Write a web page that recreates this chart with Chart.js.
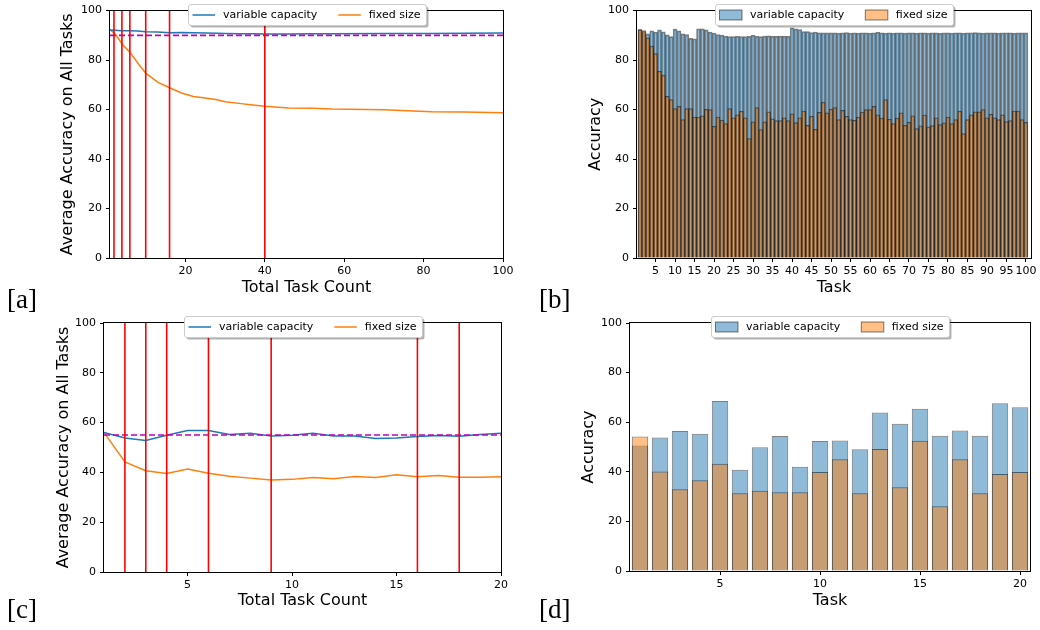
<!DOCTYPE html>
<html>
<head>
<meta charset="utf-8">
<script src="https://cdn.jsdelivr.net/npm/chart.js@4.4.1/dist/chart.umd.min.js"></script>
<style>
  body { margin: 0; background: #fff; }
  #page { position: relative; width: 1040px; height: 630px; overflow: hidden; }
  .panel { position: absolute; }
  .tag { position: absolute; font-family: 'Liberation Serif', serif; font-size: 27px; line-height: 27px; color: #000; }
</style>
</head>
<body>
<div id="page">
  <div class="panel" style="left:0;top:0;width:520px;height:305px"><canvas id="chart-a"></canvas></div>
  <div class="panel" style="left:520px;top:0;width:520px;height:305px"><canvas id="chart-b"></canvas></div>
  <div class="panel" style="left:0;top:310px;width:520px;height:310px"><canvas id="chart-c"></canvas></div>
  <div class="panel" style="left:520px;top:310px;width:520px;height:310px"><canvas id="chart-d"></canvas></div>
  <div class="tag" style="left:7px;top:286px">[a]</div>
  <div class="tag" style="left:539px;top:286px">[b]</div>
  <div class="tag" style="left:7px;top:596px">[c]</div>
  <div class="tag" style="left:539px;top:596px">[d]</div>
</div>
<script>
// ── data ───────────────────────────────────
const LABEL_VAR = 'variable capacity';
const LABEL_FIX = 'fixed size';

// [a] average accuracy on all tasks, 100-task run
const tasksA = [1, 2, 3, 4, 6, 8, 10, 13, 16, 19, 22, 25, 28, 30, 34, 37, 40, 46, 52, 57, 70, 82, 90, 100];
const varA = [92.2, 92.1, 92.0, 91.9, 91.9, 91.8, 91.5, 91.3, 91.0, 91.1, 91.0, 90.9, 90.8, 90.7, 90.6, 90.6, 90.5, 90.5, 90.6, 90.6, 90.7, 90.7, 90.8, 90.9];
const fixA = [92.2, 91.0, 89.0, 86.6, 83.2, 78.8, 74.7, 71.1, 68.8, 66.7, 65.3, 64.7, 64.0, 63.2, 62.4, 61.8, 61.3, 60.6, 60.5, 60.2, 59.9, 59.1, 59.0, 58.7];
const refA = 90;
const expandA = [2, 4, 6, 10, 16, 40];
const xTicksA = [20, 40, 60, 80, 100];

// [b] per-task accuracy after 100 tasks
const varB = [
  92.3, 91.5, 90.6, 91.8, 91.3, 92.2, 91.4, 90.2, 89.5, 92.5,
  91.8, 90.6, 90.3, 88.8, 88.6, 92.6, 92.6, 92.2, 91.3, 90.9,
  90.3, 90.1, 89.7, 89.5, 89.5, 89.6, 89.5, 89.5, 89.6, 90.0,
  89.6, 89.5, 89.7, 89.8, 89.6, 89.6, 89.7, 89.7, 89.6, 93.0,
  92.6, 92.3, 91.5, 91.5, 91.1, 91.3, 91.0, 91.0, 91.0, 91.0,
  91.0, 90.9, 91.0, 91.1, 90.9, 91.0, 90.9, 91.0, 91.0, 90.9,
  91.0, 91.2, 91.0, 90.9, 91.0, 90.9, 91.0, 91.0, 90.9, 91.0,
  91.0, 90.9, 91.0, 91.0, 90.9, 91.0, 91.0, 90.8, 91.0, 91.0,
  90.9, 91.0, 91.0, 90.9, 91.0, 91.0, 91.1, 91.0, 90.9, 91.0,
  91.0, 91.0, 90.9, 91.0, 91.0, 91.0, 90.9, 91.0, 91.0, 91.0,
];
const fixB = [
  92.3, 91.9, 89.0, 85.7, 82.6, 75.5, 73.9, 65.3, 64.0, 60.4,
  61.3, 55.9, 60.4, 60.4, 57.0, 57.0, 57.5, 60.1, 60.0, 53.2,
  57.0, 55.7, 54.3, 60.4, 56.7, 57.9, 59.3, 56.7, 48.3, 55.0,
  60.8, 51.9, 55.0, 59.1, 56.3, 55.5, 55.5, 56.7, 55.5, 58.3,
  54.7, 56.7, 59.4, 53.6, 57.3, 52.0, 58.9, 63.0, 58.7, 60.2,
  60.8, 55.9, 59.7, 57.3, 55.9, 55.6, 57.0, 59.0, 60.0, 60.0,
  61.3, 57.9, 56.6, 64.0, 56.1, 54.3, 56.6, 58.7, 53.6, 54.8,
  57.5, 52.3, 53.4, 57.8, 53.0, 53.5, 56.7, 53.9, 54.6, 57.0,
  54.3, 55.9, 59.3, 50.3, 55.9, 57.9, 59.1, 59.1, 60.0, 56.7,
  58.1, 56.7, 55.9, 57.9, 55.1, 55.5, 59.4, 59.4, 55.9, 54.8,
];
const tasksB = varB.map((_, i) => i + 1);
const xTicksB = [5, 10, 15, 20, 25, 30, 35, 40, 45, 50, 55, 60, 65, 70, 75, 80, 85, 90, 95, 100];

// [c] average accuracy on all tasks, 20-task run
const tasksC = [1, 2, 3, 4, 5, 6, 7, 8, 9, 10, 11, 12, 13, 14, 15, 16, 17, 18, 19, 20];
const varC = [56.0, 53.8, 52.8, 54.9, 56.8, 56.8, 55.2, 55.7, 54.6, 54.9, 55.7, 54.6, 54.6, 53.6, 53.8, 54.4, 54.8, 54.5, 55.2, 55.7];
const fixC = [56.0, 44.2, 40.7, 39.6, 41.4, 39.7, 38.5, 37.7, 36.9, 37.2, 38.0, 37.5, 38.4, 38.0, 39.1, 38.3, 38.8, 38.1, 38.1, 38.3];
const refC = 55;
const expandC = [2, 3, 4, 6, 9, 16, 18];
const xTicksC = [5, 10, 15, 20];

// [d] per-task accuracy after 20 tasks
const tasksD = [1, 2, 3, 4, 5, 6, 7, 8, 9, 10, 11, 12, 13, 14, 15, 16, 17, 18, 19, 20];
const varD = [50.6, 53.8, 56.5, 55.3, 68.5, 40.8, 49.9, 54.4, 42.0, 52.4, 52.6, 49.1, 63.9, 59.4, 65.4, 54.5, 56.7, 54.5, 67.6, 66.0];
const fixD = [54.2, 40.1, 33.0, 36.6, 43.2, 31.4, 32.4, 31.8, 31.8, 39.9, 45.1, 31.4, 49.2, 33.8, 52.5, 26.1, 45.1, 31.4, 39.1, 39.9];
const xTicksD = [5, 10, 15, 20];

const yTicks = [0, 20, 40, 60, 80, 100];

// ── styles ─────────────────────────────────
const BLUE = '#1f77b4';
const ORANGE = '#ff7f0e';
const BLUE_A = 'rgba(31,119,180,0.5)';
const ORANGE_A = 'rgba(255,127,14,0.5)';
const EDGE = 'rgba(0,0,0,0.5)';
const FONT = "'DejaVu Sans', sans-serif";

Chart.defaults.font.family = FONT;
Chart.defaults.color = '#000';

const pts = (xs, ys) => xs.map((x, i) => ({ x, y: ys[i] }));

// ── plugins ────────────────────────────────
const frame = {
  id: 'frame',
  afterDatasetsDraw(chart) {
    const { ctx, chartArea: a } = chart;
    ctx.save();
    ctx.strokeStyle = '#000';
    ctx.lineWidth = 1;
    ctx.strokeRect(Math.round(a.left) - 0.5, Math.round(a.top) - 0.5,
      Math.round(a.right - a.left) + 1, Math.round(a.bottom - a.top) + 1);
    ctx.restore();
  },
};

// matplotlib-style legend box straddling the top spine
const boxLegend = {
  id: 'boxLegend',
  afterDraw(chart, args, opts) {
    const { ctx, chartArea: a } = chart;
    const items = opts.items || [];
    ctx.save();
    ctx.font = '11px ' + FONT;
    const widths = items.map(it => ctx.measureText(it.label).width);
    const padL = 4, padR = 6, handle = 22.5, gap = 8, colGap = 21, h = 21;
    const w = padL + padR + widths.reduce((s, tw) => s + handle + gap + tw, 0) + colGap * (items.length - 1);
    const x0 = Math.round((a.left + a.right) / 2 - w / 2) + 0.5;
    const y0 = Math.round(a.top) - 7 + 0.5;

    const rr = (x, y) => { ctx.beginPath(); ctx.roundRect(x, y, w, h, 2.5); };
    ctx.fillStyle = 'rgba(0,0,0,0.3)';
    rr(x0 + 2, y0 + 2); ctx.fill();
    ctx.fillStyle = '#fff';
    ctx.strokeStyle = '#cccccc';
    ctx.lineWidth = 1;
    rr(x0, y0); ctx.fill(); ctx.stroke();

    const cy = y0 + h / 2;
    let x = x0 + padL;
    items.forEach((it, i) => {
      if (it.kind === 'line') {
        ctx.strokeStyle = it.color;
        ctx.lineWidth = 1.5;
        ctx.beginPath(); ctx.moveTo(x, cy); ctx.lineTo(x + handle, cy); ctx.stroke();
      } else {
        ctx.fillStyle = it.color;
        ctx.fillRect(x, cy - 5, handle, 10);
        ctx.strokeStyle = EDGE;
        ctx.lineWidth = 1;
        ctx.strokeRect(x, cy - 5, handle, 10);
      }
      ctx.fillStyle = '#000';
      ctx.textBaseline = 'middle';
      ctx.textAlign = 'left';
      ctx.fillText(it.label, x + handle + gap, cy + 0.5);
      x += handle + gap + widths[i] + colGap;
    });
    ctx.restore();
  },
};

// ── shared options ─────────────────────────
function panelOptions(o) {
  return {
    responsive: true,
    maintainAspectRatio: false,
    animation: false,
    events: [],
    layout: { padding: { left: 0, top: o.padTop, right: o.padRight, bottom: 0 } },
    plugins: {
      legend: { display: false },
      tooltip: { enabled: false },
      boxLegend: { items: o.legend },
    },
    scales: {
      x: {
        type: 'linear',
        min: o.xmin,
        max: o.xmax,
        offset: false,
        afterBuildTicks: s => { s.ticks = o.xticks.map(v => ({ value: v })); },
        afterFit: s => { s.height = o.xh; },
        grid: { drawOnChartArea: false, offset: false, tickLength: 4, color: '#000' },
        border: { display: false },
        ticks: { font: { size: 11 }, color: '#000', padding: 3, maxRotation: 0, minRotation: 0, autoSkip: false },
        title: { display: true, text: o.xtitle, color: '#000', font: { size: 16 }, padding: { top: 0, bottom: o.xtitlePad } },
      },
      y: {
        type: 'linear',
        min: 0,
        max: 100,
        afterBuildTicks: s => { s.ticks = yTicks.map(v => ({ value: v })); },
        afterFit: s => { s.width = o.yw; },
        grid: { drawOnChartArea: false, tickLength: 4, color: '#000' },
        border: { display: false },
        ticks: { font: { size: 11 }, color: '#000', padding: 4 },
        title: { display: true, text: o.ytitle, color: '#000', font: { size: 16 }, padding: { top: o.ytitlePad, bottom: 0 } },
      },
    },
  };
}

const vline = t => ({
  type: 'line', data: [{ x: t, y: 0 }, { x: t, y: 100 }],
  borderColor: '#ff0000', borderWidth: 1.6, pointRadius: 0, order: 0,
});
const hline = (v, x0, x1) => ({
  type: 'line', data: [{ x: x0, y: v }, { x: x1, y: v }],
  borderColor: '#bf00bf', borderWidth: 1.6, borderDash: [6, 3], pointRadius: 0, order: 1,
});
const curve = (label, xs, ys, color) => ({
  type: 'line', label, data: pts(xs, ys),
  borderColor: color, borderWidth: 1.5, pointRadius: 0, tension: 0, order: 2,
});
const bars = (label, xs, ys, fill, order, pct) => ({
  type: 'bar', label, data: pts(xs, ys),
  backgroundColor: fill, borderColor: EDGE, borderWidth: 1,
  grouped: false, barPercentage: pct, categoryPercentage: 1, order,
});

const lineLegend = [
  { label: LABEL_VAR, color: BLUE, kind: 'line' },
  { label: LABEL_FIX, color: ORANGE, kind: 'line' },
];
const barLegend = [
  { label: LABEL_VAR, color: BLUE_A, kind: 'box' },
  { label: LABEL_FIX, color: ORANGE_A, kind: 'box' },
];

// ── [a] ────────────────────────────────────
new Chart(document.getElementById('chart-a'), {
  type: 'line',
  data: {
    datasets: [
      ...expandA.map(vline),
      hline(refA, 1, 100),
      curve(LABEL_VAR, tasksA, varA, BLUE),
      curve(LABEL_FIX, tasksA, fixA, ORANGE),
    ],
  },
  options: panelOptions({
    padTop: 10, padRight: 17, xh: 47, yw: 110,
    xmin: 1, xmax: 100, xticks: xTicksA,
    xtitle: 'Total Task Count', xtitlePad: 7.4,
    ytitle: 'Average Accuracy on All Tasks', ytitlePad: 58.4,
    legend: lineLegend,
  }),
  plugins: [frame, boxLegend],
});

// ── [b] ────────────────────────────────────
new Chart(document.getElementById('chart-b'), {
  type: 'bar',
  data: {
    datasets: [
      bars(LABEL_VAR, tasksB, varB, BLUE_A, 2, 1),
      bars(LABEL_FIX, tasksB, fixB, ORANGE_A, 1, 1),
    ],
  },
  options: panelOptions({
    padTop: 10, padRight: 9, xh: 47, yw: 117,
    xmin: 0.23, xmax: 101.3, xticks: xTicksB,
    xtitle: 'Task', xtitlePad: 7.4,
    ytitle: 'Accuracy', ytitlePad: 66.4,
    legend: barLegend,
  }),
  plugins: [frame, boxLegend],
});

// ── [c] ────────────────────────────────────
new Chart(document.getElementById('chart-c'), {
  type: 'line',
  data: {
    datasets: [
      ...expandC.map(vline),
      hline(refC, 1, 20),
      curve(LABEL_VAR, tasksC, varC, BLUE),
      curve(LABEL_FIX, tasksC, fixC, ORANGE),
    ],
  },
  options: panelOptions({
    padTop: 13, padRight: 19, xh: 48, yw: 104,
    xmin: 1, xmax: 20, xticks: xTicksC,
    xtitle: 'Total Task Count', xtitlePad: 9.4,
    ytitle: 'Average Accuracy on All Tasks', ytitlePad: 54.4,
    legend: lineLegend,
  }),
  plugins: [frame, boxLegend],
});

// ── [d] ────────────────────────────────────
new Chart(document.getElementById('chart-d'), {
  type: 'bar',
  data: {
    datasets: [
      bars(LABEL_VAR, tasksD, varD, BLUE_A, 2, 0.82),
      bars(LABEL_FIX, tasksD, fixD, ORANGE_A, 1, 0.82),
    ],
  },
  options: panelOptions({
    padTop: 13, padRight: 10, xh: 49, yw: 110,
    xmin: 0.5, xmax: 20.5, xticks: xTicksD,
    xtitle: 'Task', xtitlePad: 9.4,
    ytitle: 'Accuracy', ytitlePad: 59.4,
    legend: barLegend,
  }),
  plugins: [frame, boxLegend],
});
</script>
</body>
</html>
